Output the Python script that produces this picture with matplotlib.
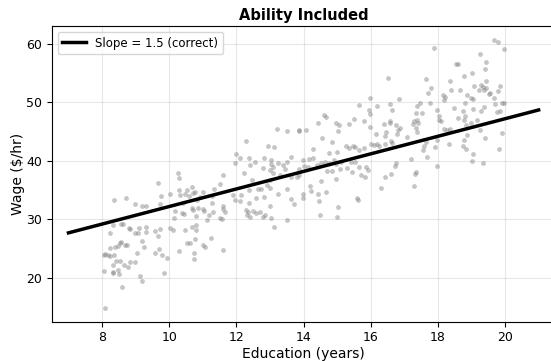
import matplotlib
matplotlib.use("Agg")
import matplotlib.pyplot as plt

# ── data ──────────────────────────────────────────────────────────────────────
# education (years) / hourly wage, grouped roughly left to right
edu_a = [8.37, 8.71, 8.99, 9.19, 9.32, 9.76, 9.73, 9.68, 8.56, 8.62, 8.33, 8.25,
         8.79, 8.84, 8.99, 9.07, 9.09, 9.32, 9.32, 9.57, 9.66, 9.74, 9.19, 9.24,
         8.52, 8.57, 8.47, 8.39, 8.25, 8.69, 8.74, 9.04, 9.57, 9.71, 9.78, 8.10,
         8.18, 8.05, 8.25, 8.37, 8.41, 8.54, 8.64, 8.77, 8.84, 8.97, 8.32, 8.34,
         8.47, 8.51, 8.33, 8.05, 9.14, 9.19, 8.59, 8.08, 9.83]
wage_a = [33.26, 33.66, 32.57, 32.23, 32.23, 33.94, 32.57, 36.22, 29.16, 29.16, 28.99, 27.68,
          28.42, 28.25, 27.68, 27.68, 28.42, 28.71, 27.85, 28.02, 27.17, 28.25, 26.32, 25.29,
          25.98, 26.15, 25.41, 25.18, 25.01, 25.58, 25.58, 24.27, 24.27, 24.84, 23.87, 24.04,
          23.87, 23.87, 23.70, 23.87, 22.90, 22.90, 22.16, 21.77, 22.73, 22.73, 22.16, 21.03,
          21.31, 20.57, 20.86, 21.20, 20.29, 19.49, 18.35, 14.88, 20.86]

edu_b = [10.25, 10.30, 11.61, 11.52, 10.69, 10.52, 10.72, 10.77, 10.28, 10.31, 10.03, 10.47,
         10.60, 11.02, 11.32, 11.27, 10.92, 10.84, 10.40, 10.67, 10.72, 10.87, 11.02, 11.05,
         11.27, 11.30, 11.61, 11.61, 11.66, 10.18, 10.13, 10.37, 10.44, 10.80, 11.17, 11.12,
         11.50, 11.57, 10.03, 10.11, 10.47, 10.67, 10.80, 10.80, 11.24, 10.54, 10.62, 10.77,
         11.02, 11.07, 10.28, 10.75, 10.75, 11.60, 9.93]
wage_b = [37.92, 36.95, 37.52, 35.99, 35.53, 34.96, 34.51, 34.68, 34.96, 34.11, 34.28, 34.22,
          34.00, 34.68, 35.08, 33.94, 33.83, 33.26, 32.69, 31.84, 31.55, 31.84, 31.67, 31.38,
          32.69, 31.27, 32.23, 31.67, 31.27, 31.38, 30.13, 30.98, 30.81, 30.53, 30.70, 29.84,
          30.13, 29.96, 28.42, 28.14, 28.14, 28.59, 28.99, 28.14, 26.72, 25.86, 25.86, 26.55,
          25.58, 25.18, 24.61, 24.16, 23.19, 24.73, 23.42]

edu_c = [13.22, 13.51, 13.85, 12.30, 12.94, 13.11, 12.00, 12.12, 12.37, 11.97, 12.54, 12.42,
         12.82, 13.04, 13.02, 13.24, 13.39, 13.52, 13.63, 12.79, 13.09, 13.01, 13.09, 13.29,
         12.23, 13.62, 13.81, 13.46, 12.46, 12.99, 12.92, 12.64, 12.74, 12.99, 13.52, 11.90,
         12.15, 12.37, 12.59, 12.82, 13.24, 13.63, 11.97, 12.12, 12.38, 13.73, 12.99, 12.30,
         12.35, 12.49, 12.59, 12.69, 12.33, 12.42, 12.79, 12.86, 13.04, 13.52, 13.11]
wage_c = [45.37, 45.09, 45.20, 43.33, 42.47, 42.36, 41.05, 40.48, 40.48, 39.52, 39.69, 39.23,
          40.37, 40.08, 39.40, 39.52, 39.23, 39.80, 40.54, 38.66, 38.95, 38.38, 37.81, 37.52,
          37.81, 37.24, 37.24, 38.49, 36.67, 36.67, 35.82, 35.14, 35.14, 35.25, 35.08, 34.11,
          34.11, 34.96, 33.66, 33.71, 34.28, 33.43, 33.26, 33.09, 32.69, 32.52, 32.23, 31.55,
          31.27, 31.44, 31.10, 31.27, 30.70, 30.30, 30.41, 30.70, 30.24, 29.85, 28.71]

edu_d = [15.64, 14.61, 14.66, 14.44, 14.96, 15.06, 15.34, 15.51, 15.80, 15.04, 13.87, 14.07,
         14.54, 14.84, 14.29, 14.76, 15.01, 15.26, 15.36, 15.48, 15.54, 15.65, 15.80, 13.97,
         14.15, 14.27, 14.39, 14.51, 14.64, 14.76, 14.91, 14.98, 15.11, 15.29, 15.41, 15.54,
         15.65, 15.85, 14.02, 14.12, 13.87, 14.71, 14.84, 15.09, 15.44, 13.87, 14.51, 14.98,
         15.70, 15.83, 14.19, 14.22, 14.44, 14.68, 13.97, 13.99, 15.58, 15.61, 14.46, 15.04,
         14.48, 15.01]
wage_d = [49.47, 47.76, 47.48, 46.45, 46.45, 46.05, 46.17, 47.19, 46.79, 45.09, 45.09, 45.31,
          43.89, 43.21, 41.90, 41.33, 41.39, 42.47, 42.19, 42.47, 42.24, 41.79, 42.07, 40.08,
          40.19, 40.37, 39.23, 39.51, 39.80, 39.51, 40.08, 39.34, 39.80, 38.77, 39.80, 39.80,
          38.94, 38.94, 39.06, 38.83, 38.49, 38.20, 38.20, 38.49, 38.09, 37.52, 36.50, 36.84,
          37.52, 37.24, 35.64, 34.85, 34.22, 34.68, 34.28, 33.54, 33.65, 33.26, 33.14, 32.12,
          30.70, 30.30]

edu_e = [16.51, 17.64, 17.70, 17.81, 15.98, 16.84, 16.20, 16.57, 16.62, 15.95, 15.98, 17.39,
         17.47, 17.78, 17.34, 17.54, 15.98, 16.40, 16.57, 16.57, 16.74, 16.81, 16.87, 17.29,
         17.27, 17.37, 17.41, 17.34, 17.39, 16.15, 16.47, 16.44, 16.79, 17.07, 16.61, 16.64,
         16.00, 16.10, 16.18, 16.25, 16.42, 17.64, 17.59, 17.57, 17.90, 17.19, 17.67, 15.92,
         16.74, 16.71, 17.34, 17.31, 16.59, 16.42, 16.32, 17.29]
wage_e = [54.14, 54.02, 51.63, 52.32, 50.61, 50.44, 49.30, 49.64, 48.62, 48.62, 47.88, 49.30,
          49.76, 49.87, 48.16, 48.16, 45.77, 46.23, 46.34, 46.80, 46.06, 45.20, 45.49, 46.80,
          46.23, 47.02, 46.34, 45.49, 44.92, 44.52, 44.92, 44.18, 44.52, 43.95, 43.38, 43.04,
          42.76, 42.65, 42.76, 42.47, 42.82, 43.21, 42.47, 41.79, 42.36, 40.20, 40.54, 38.38,
          39.52, 39.06, 38.09, 37.70, 37.70, 37.13, 35.25, 35.65]

edu_f = [19.66, 19.80, 19.98, 17.87, 19.24, 18.53, 18.61, 19.44, 19.41, 19.01, 18.78, 18.37,
         19.44, 18.66, 18.39, 19.08, 19.29, 19.33, 19.21, 19.36, 19.43, 19.51, 19.56, 19.85,
         19.80, 18.86, 18.99, 19.06, 18.14, 18.22, 18.17, 19.66, 19.70, 19.90, 19.98, 18.81,
         18.49, 19.04, 19.36, 19.28, 19.75, 19.85, 18.76, 17.97, 18.04, 18.02, 18.09, 18.81,
         18.79, 18.59, 19.18, 18.99, 18.84, 18.17, 18.27, 18.37, 19.24, 19.92, 18.86, 18.78,
         17.97, 19.41, 18.34, 18.74, 18.84, 19.06, 19.01, 19.33, 19.83, 17.97]
wage_f = [60.56, 60.28, 59.03, 59.26, 58.17, 56.58, 56.58, 56.87, 55.73, 55.05, 54.42, 53.57,
          53.62, 52.14, 52.03, 52.71, 52.88, 52.60, 52.14, 52.14, 52.32, 51.46, 51.58, 52.71,
          51.92, 51.29, 50.61, 50.50, 51.18, 50.89, 50.32, 50.61, 49.64, 49.76, 49.76, 49.76,
          49.07, 48.90, 49.19, 48.45, 48.33, 48.50, 48.45, 48.62, 47.59, 46.91, 46.80, 47.59,
          47.02, 47.20, 46.91, 46.34, 46.06, 45.32, 45.21, 45.38, 45.21, 44.75, 44.35, 43.50,
          43.50, 43.78, 42.82, 42.47, 41.96, 41.11, 39.97, 39.52, 41.96, 39.12]

# fitted line (ability included → unbiased slope)
SLOPE = 1.5
INTERCEPT = 17.15
line_edu = [7, 21]


def main():
    edu = edu_a + edu_b + edu_c + edu_d + edu_e + edu_f
    wage = wage_a + wage_b + wage_c + wage_d + wage_e + wage_f
    line_wage = [INTERCEPT + SLOPE * x for x in line_edu]

    fig = plt.figure(figsize=(5.51, 3.61), dpi=100)
    # panel is cropped on the right in the reference, so axes run past the edge
    ax = fig.add_axes([0.0938, 0.1094, 0.9142, 0.8186])

    ax.scatter(edu, wage, s=12, color="gray", alpha=0.45, linewidths=0, zorder=2)
    ax.plot(line_edu, line_wage, color="black", lw=2.5, zorder=3,
            label=f"Slope = {SLOPE} (correct)")

    ax.set_xlim(6.5, 21.5)
    ax.set_ylim(12.5, 63)
    ax.set_xticks([8, 10, 12, 14, 16, 18, 20])
    ax.set_yticks([20, 30, 40, 50, 60])
    ax.tick_params(labelsize=9)
    ax.set_xlabel("Education (years)", fontsize=10, labelpad=2)
    ax.set_ylabel("Wage ($/hr)", fontsize=10, labelpad=1)
    ax.set_title("Ability Included", fontsize=10.5, fontweight="bold", pad=4)
    ax.legend(loc="upper left", fontsize=8.5)
    ax.grid(True, alpha=0.3)

    fig.savefig("out.png", dpi=100)


if __name__ == "__main__":
    main()
